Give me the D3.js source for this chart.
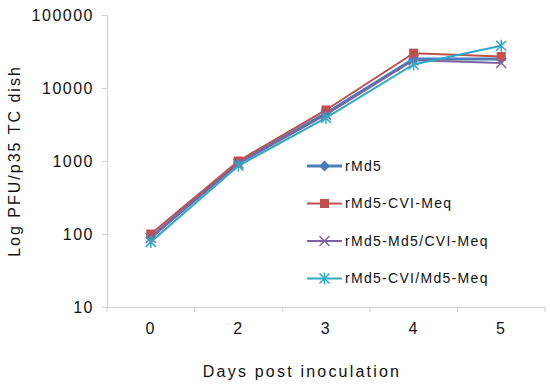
<!DOCTYPE html>
<html>
<head>
<meta charset="utf-8">
<script src="https://cdn.jsdelivr.net/npm/d3@7"></script>
<style>
  body { margin: 0; background: #fff; }
  text { font-family: "Liberation Sans", Arial, sans-serif; fill: #111; }
</style>
</head>
<body>
<svg id="chart"></svg>
<script>
let days = ['0', '2', '3', '4', '5'];
let yTicks = [10, 100, 1000, 10000, 100000];

let rMd5 = [90, 950, 4500, 25000, 25000];
let cviMeq = [100, 1000, 5000, 30000, 27000];
let md5CviMeq = [88, 920, 4300, 24000, 22000];
let cviMd5Meq = [78, 860, 3900, 21000, 38000];

let seriesNames = ['rMd5', 'rMd5-CVI-Meq', 'rMd5-Md5/CVI-Meq', 'rMd5-CVI/Md5-Meq'];
let seriesColors = ['#4a7ebb', '#c0504d', '#8064a2', '#2eaac6'];

let width = 550, height = 388;
let margin = { top: 15, right: 5, bottom: 81, left: 107 };

let svg = d3.select('#chart')
  .attr('width', width)
  .attr('height', height);

let series = [rMd5, cviMeq, md5CviMeq, cviMd5Meq].map((vals, i) => ({
  name: seriesNames[i],
  color: seriesColors[i],
  values: vals
}));

let xScale = d3.scaleBand()
  .domain(days)
  .range([margin.left, width - margin.right]);

let yScale = d3.scaleLog()
  .domain([10, 100000])
  .range([height - margin.bottom, margin.top]);

// axes
let yAxis = svg.append('g')
  .attr('transform', `translate(${margin.left},0)`)
  .call(d3.axisLeft(yScale).tickValues(yTicks).tickFormat(d3.format('d')).tickSize(5).tickPadding(8));

let xAxis = svg.append('g')
  .attr('transform', `translate(0,${height - margin.bottom})`)
  .call(d3.axisBottom(xScale).tickSize(0).tickPadding(16));

[xAxis, yAxis].forEach(a => {
  a.selectAll('path, line').attr('stroke', '#d0d0d0');
  a.selectAll('text')
    .style('font-size', '16px')
    .style('letter-spacing', '1.5px')
    .attr('fill', '#111');
});

// x tick marks between categories
let bounds = days.map(d => xScale(d)).concat([xScale(days[days.length - 1]) + xScale.bandwidth()]);
svg.append('g')
  .selectAll('line')
  .data(bounds)
  .enter()
  .append('line')
  .attr('x1', d => d).attr('x2', d => d)
  .attr('y1', height - margin.bottom)
  .attr('y2', height - margin.bottom + 5)
  .attr('stroke', '#d0d0d0');

// titles
svg.append('text')
  .attr('transform', `translate(20, ${(margin.top + height - margin.bottom) / 2}) rotate(-90)`)
  .attr('text-anchor', 'middle')
  .style('font-size', '16px')
  .style('letter-spacing', '2px')
  .text('Log PFU/p35 TC dish');

svg.append('text')
  .attr('x', 302)
  .attr('y', 377)
  .attr('text-anchor', 'middle')
  .style('font-size', '16px')
  .style('letter-spacing', '2.2px')
  .text('Days post inoculation');

let line = d3.line()
  .x((d, i) => xScale(days[i]) + xScale.bandwidth() / 2)
  .y(d => yScale(d));

let drawMarker = (g, i, color) => {
  if (i === 0) {
    g.append('path').attr('d', 'M0,-5.5L5.5,0L0,5.5L-5.5,0Z').attr('fill', color);
  } else if (i === 1) {
    g.append('rect').attr('x', -4.5).attr('y', -4.5).attr('width', 9).attr('height', 9).attr('fill', color);
  } else if (i === 2) {
    g.append('path').attr('d', 'M-5,-5L5,5M-5,5L5,-5').attr('stroke', color).attr('stroke-width', 1.5);
  } else {
    g.append('path').attr('d', 'M-5,-5L5,5M-5,5L5,-5M0,-6L0,6').attr('stroke', color).attr('stroke-width', 1.5);
  }
};

let groups = svg.selectAll('.series')
  .data(series)
  .enter()
  .append('g')
  .attr('class', 'series');

groups.append('path')
  .attr('d', d => line(d.values))
  .attr('fill', 'none')
  .attr('stroke', d => d.color)
  .attr('stroke-width', (d, i) => i === 0 ? 3 : 2);

groups.each(function (d, i) {
  let g = d3.select(this);
  d.values.forEach((v, j) => {
    let m = g.append('g')
      .attr('transform', `translate(${xScale(days[j]) + xScale.bandwidth() / 2},${yScale(v)})`);
    drawMarker(m, i, d.color);
  });
});

// legend
let legend = svg.append('g')
  .selectAll('g')
  .data(series)
  .enter()
  .append('g')
  .attr('transform', (d, i) => `translate(307, ${166 + i * 37.5})`);

legend.append('line')
  .attr('x1', 0).attr('x2', 35)
  .attr('stroke', d => d.color)
  .attr('stroke-width', (d, i) => i === 0 ? 3 : 2);

legend.each(function (d, i) {
  let m = d3.select(this).append('g').attr('transform', 'translate(17.5,0)');
  drawMarker(m, i, d.color);
});

legend.append('text')
  .attr('x', 38)
  .attr('dy', '0.35em')
  .style('font-size', '14px')
  .style('letter-spacing', '1.3px')
  .text(d => d.name);
</script>
</body>
</html>
